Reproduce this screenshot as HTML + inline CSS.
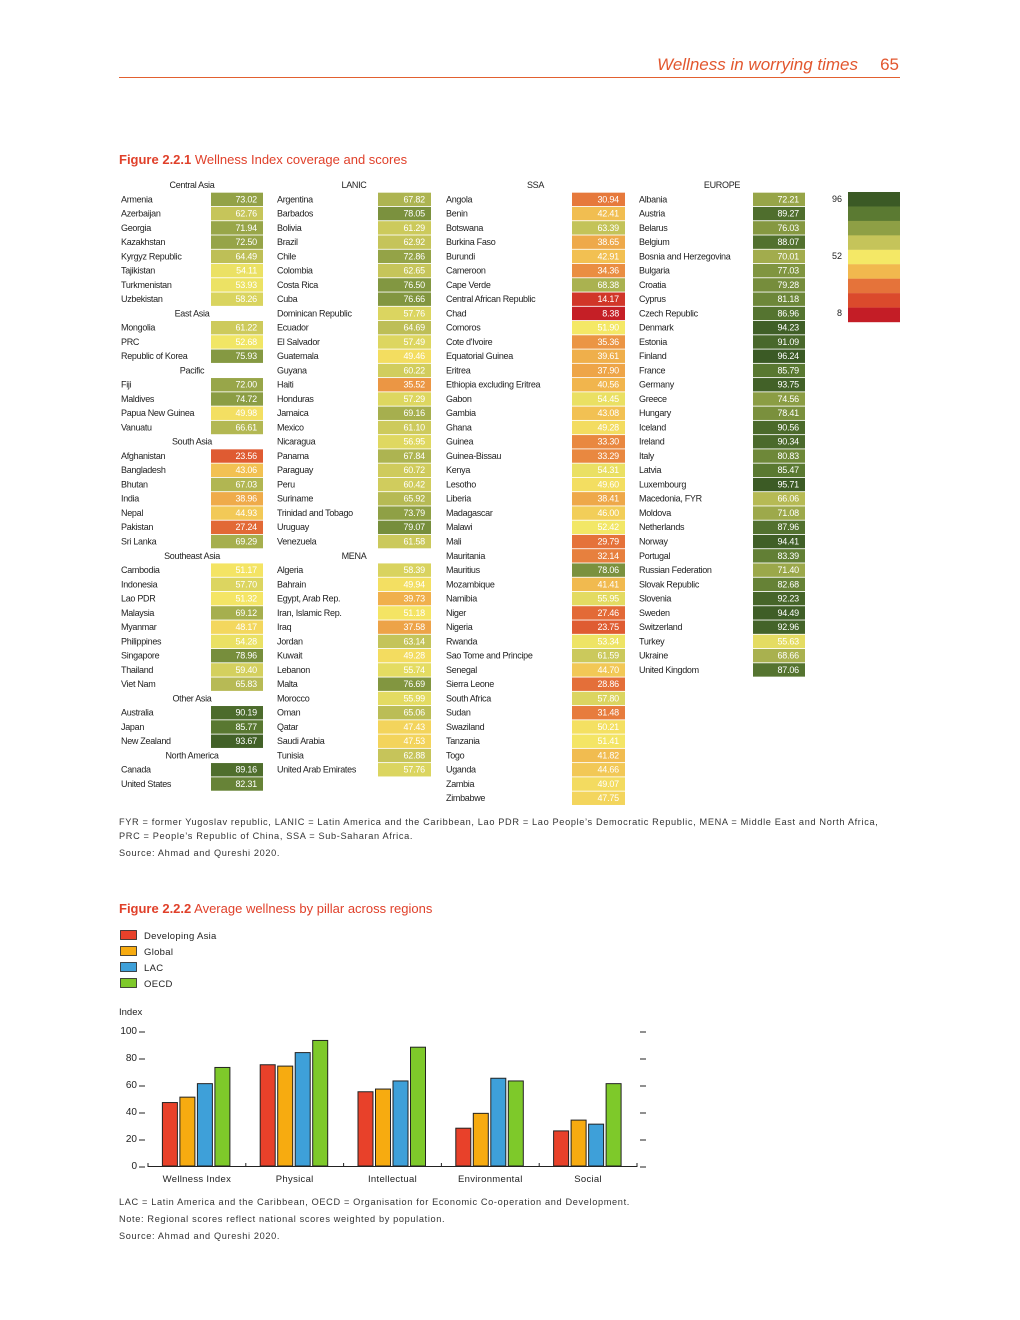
<!DOCTYPE html>
<html><head><meta charset="utf-8">
<style>
html,body{margin:0;padding:0;background:#fff;}
svg{display:block;font-family:"Liberation Sans",sans-serif;}
</style></head>
<body>
<svg id="pg" width="1020" height="1320" viewBox="0 0 1020 1320" xmlns="http://www.w3.org/2000/svg">
<text x="858" y="70" text-anchor="end" font-size="17" font-style="italic" fill="#e2572f">Wellness in worrying times</text>
<text x="899" y="70" text-anchor="end" font-size="17" fill="#e2572f">65</text>
<rect x="119" y="77" width="781" height="1" fill="#e2602f"/>
<text x="119" y="164" font-size="13" fill="#e0402a"><tspan font-weight="bold">Figure 2.2.1</tspan>  Wellness Index coverage and scores</text>
<g id="tbl"></g>
<g id="leg"></g>
<g font-size="9.2" fill="#333" letter-spacing="0.65">
<text x="119" y="825">FYR = former Yugoslav republic, LANIC = Latin America and the Caribbean, Lao PDR = Lao People’s Democratic Republic, MENA = Middle East and North Africa,</text>
<text x="119" y="839">PRC = People’s Republic of China, SSA = Sub-Saharan Africa.</text>
<text x="119" y="856">Source: Ahmad and Qureshi 2020.</text>
</g>
<text x="119" y="913" font-size="13" fill="#e0402a"><tspan font-weight="bold">Figure 2.2.2</tspan>  Average wellness by pillar across regions</text>
<g id="bleg"></g>
<g id="chart"></g>
<g font-size="9.2" fill="#333" letter-spacing="0.65">
<text x="119" y="1205">LAC = Latin America and the Caribbean, OECD = Organisation for Economic Co-operation and Development.</text>
<text x="119" y="1222">Note: Regional scores reflect national scores weighted by population.</text>
<text x="119" y="1239">Source: Ahmad and Qureshi 2020.</text>
</g>
</svg>
<script>
const NS="http://www.w3.org/2000/svg";
// Table data: [name, value] ; value null = region header
const col1=[["Central Asia",null],["Armenia",73.02],["Azerbaijan",62.76],["Georgia",71.94],["Kazakhstan",72.50],["Kyrgyz Republic",64.49],["Tajikistan",54.11],["Turkmenistan",53.93],["Uzbekistan",58.26],["East Asia",null],["Mongolia",61.22],["PRC",52.68],["Republic of Korea",75.93],["Pacific",null],["Fiji",72.00],["Maldives",74.72],["Papua New Guinea",49.98],["Vanuatu",66.61],["South Asia",null],["Afghanistan",23.56],["Bangladesh",43.06],["Bhutan",67.03],["India",38.96],["Nepal",44.93],["Pakistan",27.24],["Sri Lanka",69.29],["Southeast Asia",null],["Cambodia",51.17],["Indonesia",57.70],["Lao PDR",51.32],["Malaysia",69.12],["Myanmar",48.17],["Philippines",54.28],["Singapore",78.96],["Thailand",59.40],["Viet Nam",65.83],["Other Asia",null],["Australia",90.19],["Japan",85.77],["New Zealand",93.67],["North America",null],["Canada",89.16],["United States",82.31]];
const col2=[["LANIC",null],["Argentina",67.82],["Barbados",78.05],["Bolivia",61.29],["Brazil",62.92],["Chile",72.86],["Colombia",62.65],["Costa Rica",76.50],["Cuba",76.66],["Dominican Republic",57.76],["Ecuador",64.69],["El Salvador",57.49],["Guatemala",49.46],["Guyana",60.22],["Haiti",35.52],["Honduras",57.29],["Jamaica",69.16],["Mexico",61.10],["Nicaragua",56.95],["Panama",67.84],["Paraguay",60.72],["Peru",60.42],["Suriname",65.92],["Trinidad and Tobago",73.79],["Uruguay",79.07],["Venezuela",61.58],["MENA",null],["Algeria",58.39],["Bahrain",49.94],["Egypt, Arab Rep.",39.73],["Iran, Islamic Rep.",51.18],["Iraq",37.58],["Jordan",63.14],["Kuwait",49.28],["Lebanon",55.74],["Malta",76.69],["Morocco",55.99],["Oman",65.06],["Qatar",47.43],["Saudi Arabia",47.53],["Tunisia",62.88],["United Arab Emirates",57.76]];
const col3=[["SSA",null],["Angola",30.94],["Benin",42.41],["Botswana",63.39],["Burkina Faso",38.65],["Burundi",42.91],["Cameroon",34.36],["Cape Verde",68.38],["Central African Republic",14.17],["Chad",8.38],["Comoros",51.90],["Cote d'Ivoire",35.36],["Equatorial Guinea",39.61],["Eritrea",37.90],["Ethiopia excluding Eritrea",40.56],["Gabon",54.45],["Gambia",43.08],["Ghana",49.28],["Guinea",33.30],["Guinea-Bissau",33.29],["Kenya",54.31],["Lesotho",49.60],["Liberia",38.41],["Madagascar",46.00],["Malawi",52.42],["Mali",29.79],["Mauritania",32.14],["Mauritius",78.06],["Mozambique",41.41],["Namibia",55.95],["Niger",27.46],["Nigeria",23.75],["Rwanda",53.34],["Sao Tome and Principe",61.59],["Senegal",44.70],["Sierra Leone",28.86],["South Africa",57.80],["Sudan",31.48],["Swaziland",50.21],["Tanzania",51.41],["Togo",41.82],["Uganda",44.66],["Zambia",49.07],["Zimbabwe",47.75]];
const col4=[["EUROPE",null],["Albania",72.21],["Austria",89.27],["Belarus",76.03],["Belgium",88.07],["Bosnia and Herzegovina",70.01],["Bulgaria",77.03],["Croatia",79.28],["Cyprus",81.18],["Czech Republic",86.96],["Denmark",94.23],["Estonia",91.09],["Finland",96.24],["France",85.79],["Germany",93.75],["Greece",74.56],["Hungary",78.41],["Iceland",90.56],["Ireland",90.34],["Italy",80.83],["Latvia",85.47],["Luxembourg",95.71],["Macedonia, FYR",66.06],["Moldova",71.08],["Netherlands",87.96],["Norway",94.41],["Portugal",83.39],["Russian Federation",71.40],["Slovak Republic",82.68],["Slovenia",92.23],["Sweden",94.49],["Switzerland",92.96],["Turkey",55.63],["Ukraine",68.66],["United Kingdom",87.06]];
const scaleStops=[8,19,30,41,52,63,74,85,96];
const scaleColors=["#c41d26","#db4a2c","#e5733a","#f1b84e","#f4e866","#c5c45a","#8e9f45","#5b7a32","#3b5a25"];
const scaleLabels=["96","52","8"];

// Chart data
const pillars=["Wellness Index","Physical","Intellectual","Environmental","Social"];
const seriesNames=["Developing Asia","Global","LAC","OECD"];
const seriesColors=["#e8412a","#f7ab10","#3ea0d9","#7ec92a"];
const devAsia=[47,75,55,28,26];
const globalV=[51,74,57,39,34];
const lac=[61,84,63,65,31];
const oecd=[73,93,88,63,61];
const yTicks=[0,20,40,60,80,100];

function hx(h){return [1,3,5].map(i=>parseInt(h.substr(i,2),16));}
function colorFor(v){
  if(v<=scaleStops[0])return scaleColors[0];
  for(let i=1;i<scaleStops.length;i++){
    if(v<=scaleStops[i]){
      const t=(v-scaleStops[i-1])/(scaleStops[i]-scaleStops[i-1]);
      const a=hx(scaleColors[i-1]),b=hx(scaleColors[i]);
      return "rgb("+a.map((c,k)=>Math.round(c+(b[k]-c)*t)).join(",")+")";
    }
  }
  return scaleColors[scaleColors.length-1];
}
function mk(tag,attrs,parent,txt){const e=document.createElementNS(NS,tag);for(const k in attrs)e.setAttribute(k,attrs[k]);if(txt!==undefined)e.textContent=txt;parent.appendChild(e);return e;}

const tbl=document.getElementById("tbl");
const cols=[{d:col1,nx:121,cx:211,cw:52},{d:col2,nx:277,cx:378,cw:53},{d:col3,nx:446,cx:572,cw:53},{d:col4,nx:639,cx:753,cw:52}];
const rowY=i=>185+i*14.26;
cols.forEach(c=>{
  c.d.forEach((r,i)=>{
    const y=rowY(i);
    if(r[1]===null){
      const t=mk("text",{x:(c.nx+c.cx+c.cw)/2,y:y+3,"font-size":"9","text-anchor":"middle",fill:"#222","letter-spacing":"-0.3"},tbl,r[0]);
      
      
    } else {
      const t=mk("text",{x:c.nx,y:y+3,"font-size":"9",fill:"#222","letter-spacing":"-0.3"},tbl,r[0]);
      
      
      const rc=mk("rect",{x:c.cx,y:y-6.6,width:c.cw,height:13.4,fill:colorFor(r[1])},tbl);
      
      
      const v=mk("text",{x:c.cx+c.cw-6,y:y+3,"font-size":"9","text-anchor":"end",fill:"#fff","letter-spacing":"-0.2"},tbl,r[1].toFixed(2));
      
      
    }
  });
});
const leg=document.getElementById("leg");
for(let i=0;i<9;i++){
  const r=mk("rect",{x:848,y:192+i*14.45,width:52,height:14.6,fill:scaleColors[8-i]},leg);
  
  
}
[[199,0],[256,1],[313,2]].forEach(p=>{
  const t=mk("text",{x:842,y:p[0]+3,"font-size":"9","text-anchor":"end",fill:"#222"},leg,scaleLabels[p[1]]);
  
  
});

// bar legend
const bleg=document.getElementById("bleg");
seriesNames.forEach((n,i)=>{
  const y=930+i*16;
  const r=mk("rect",{x:120.5,y:y+0.5,width:16,height:9,fill:seriesColors[i],stroke:"#222","stroke-width":"0.8"},bleg);
  
  
  const t=mk("text",{x:144,y:y+9,"font-size":"9.5",fill:"#222","letter-spacing":"0.3"},bleg,n);
  
  
});

// chart
const ch=document.getElementById("chart");
const X0=148,X1=637,Y0=1166,Y100=1031;
const yS=v=>Y0-(v-0)*(Y0-Y100)/100;
const gw=(X1-X0)/pillars.length;
const xC=i=>X0+gw*(i+0.5);
const t0=mk("text",{x:119,y:1015,"font-size":"9.5",fill:"#222"},ch,"Index");


yTicks.forEach(v=>{
  const y=yS(v);
  const l=mk("text",{x:137,y:y+3,"font-size":"10","text-anchor":"end",fill:"#222"},ch,String(v));
  
  
  const a=mk("line",{x1:139,y1:y+1,x2:145,y2:y+1,stroke:"#222","stroke-width":"1"},ch);
  
  
  const b=mk("line",{x1:640,y1:y+1,x2:646,y2:y+1,stroke:"#222","stroke-width":"1"},ch);
  
  
});
const series=[devAsia,globalV,lac,oecd];
pillars.forEach((p,i)=>{
  series.forEach((s,k)=>{
    const x=xC(i)-34.5+k*17.5;
    const r=mk("rect",{x:x,y:yS(s[i]),width:15,height:Y0-yS(s[i]),fill:seriesColors[k],stroke:"#222","stroke-width":"1"},ch);
    
    
  });
  const t=mk("text",{x:xC(i),y:1182,"font-size":"9.5","text-anchor":"middle",fill:"#222","letter-spacing":"0.3"},ch,p);
  
  
});
const ax=mk("line",{x1:X0,y1:Y0+0.5,x2:X1,y2:Y0+0.5,stroke:"#222","stroke-width":"1"},ch);


for(let i=0;i<=pillars.length;i++){
  const x=X0+gw*i;
  const tk=mk("line",{x1:x,y1:Y0-3,x2:x,y2:Y0+1,stroke:"#222","stroke-width":"1"},ch);
  
  
}
</script>
</body></html>
